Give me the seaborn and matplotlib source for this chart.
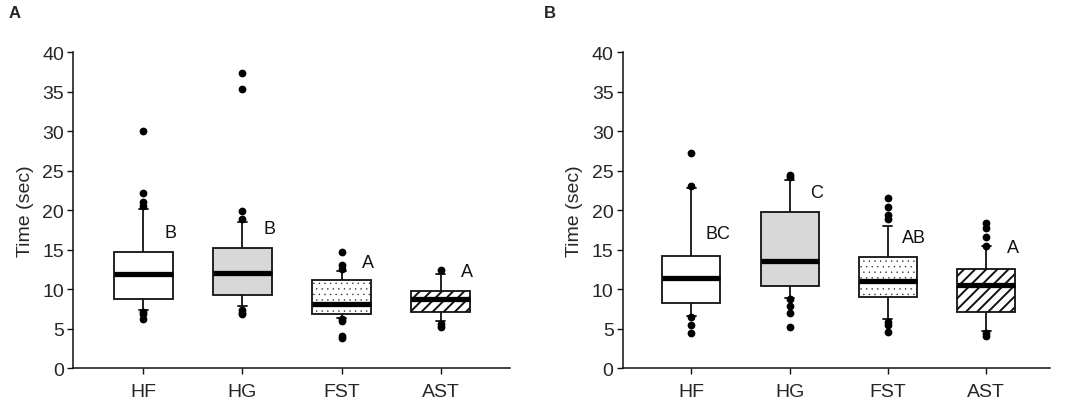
import matplotlib
matplotlib.use("Agg")
import matplotlib.pyplot as plt
import seaborn as sns
import pandas as pd

# ---------------- data ----------------
categories = ["HF", "HG", "FST", "AST"]

# five-number summaries: [lower whisker, Q1, median, Q3, upper whisker]
a_HF = [7.4, 8.8, 11.9, 14.7, 20.1]
a_HG = [7.9, 9.2, 12.0, 15.2, 18.5]
a_FST = [6.4, 6.8, 8.1, 11.2, 12.3]
a_AST = [5.9, 7.05, 8.7, 9.8, 11.9]

b_HF = [6.6, 8.2, 11.4, 14.2, 22.8]
b_HG = [8.9, 10.4, 13.5, 19.8, 23.8]
b_FST = [6.2, 9.0, 11.05, 14.1, 18.0]
b_AST = [4.7, 7.05, 10.55, 12.6, 15.4]

# points outside the whiskers
a_out_HF = [30.0, 22.2, 21.0, 20.5, 7.1, 6.8, 6.2]
a_out_HG = [37.4, 35.4, 19.9, 18.9, 7.3, 7.0, 6.8]
a_out_FST = [14.7, 13.0, 12.6, 6.2, 5.9, 4.1, 3.8]
a_out_AST = [12.4, 5.6, 5.2]

b_out_HF = [27.2, 23.1, 6.5, 5.4, 4.4]
b_out_HG = [24.4, 24.2, 8.8, 7.9, 7.0, 5.2]
b_out_FST = [21.5, 20.4, 19.4, 18.9, 5.8, 5.4, 4.6]
b_out_AST = [18.4, 17.8, 16.6, 15.5, 4.4, 4.1]

a_letters = ["B", "B", "A", "A"]
b_letters = ["BC", "C", "AB", "A"]
a_letter_y = [17.2, 17.7, 13.4, 12.2]
b_letter_y = [17.0, 22.2, 16.5, 15.3]

yticks = [0, 5, 10, 15, 20, 25, 30, 35, 40]
ylabel = "Time (sec)"

# ---------------- style ----------------
sns.set_theme(style="ticks")
plt.rcParams["font.family"] = ["Liberation Sans", "DejaVu Sans"]
plt.rcParams["hatch.linewidth"] = 1.4
plt.rcParams["hatch.color"] = "black"

fills = {"HF": "white", "HG": "#d8d8d8", "FST": "white", "AST": "white"}
hatches = [None, None, "...", "///"]
hatch_lw = [None, None, 0.2, 1.4]
ink = "#111111"


def make_frame(summaries):
    rows = []
    for cat, vals in zip(categories, summaries):
        for v in vals:
            rows.append({"group": cat, "time": v})
    return pd.DataFrame(rows)


def draw(ax, summaries, outliers, letters, letter_y, xlim):
    df = make_frame(summaries)
    sns.boxplot(data=df, x="group", y="time", hue="group", order=categories,
                hue_order=categories, palette=fills, saturation=1,
                whis=(0, 100), width=0.59, linecolor=ink, linewidth=1.3,
                legend=False, ax=ax, dodge=False,
                medianprops={"linewidth": 3.8, "color": "black"},
                capwidths=0.09)
    for patch, h, hl in zip(ax.patches, hatches, hatch_lw):
        if h:
            patch.set_hatch(h)
            if hasattr(patch, "set_hatch_linewidth"):
                patch.set_hatch_linewidth(hl)
    odf = pd.DataFrame([{"group": c, "time": v}
                        for c, vals in zip(categories, outliers) for v in vals])
    sns.stripplot(data=odf, x="group", y="time", order=categories,
                  jitter=False, color="black", size=5.6, linewidth=0, ax=ax,
                  zorder=5)
    for i, (lab, yy) in enumerate(zip(letters, letter_y)):
        ax.text(i + 0.27, yy, lab, fontsize=13, ha="center", va="center",
                color=ink)
    ax.set_ylim(0, 40)
    ax.set_xlim(*xlim)
    ax.set_yticks(yticks)
    ax.set_xlabel("")
    ax.set_ylabel(ylabel, fontsize=14, labelpad=6)
    ax.tick_params(axis="both", labelsize=14, length=4.5, width=1.0,
                   color=ink, pad=2)
    ax.tick_params(axis="x", pad=6)
    for s in ["left", "bottom"]:
        ax.spines[s].set_color(ink)
        ax.spines[s].set_linewidth(1.1)
    sns.despine(ax=ax)


fig = plt.figure(figsize=(10.84, 4.06), dpi=100)
axA = fig.add_axes([0.0673, 0.0911, 0.4032, 0.7776])
axB = fig.add_axes([0.5744, 0.0911, 0.3942, 0.7776])

draw(axA, [a_HF, a_HG, a_FST, a_AST],
     [a_out_HF, a_out_HG, a_out_FST, a_out_AST], a_letters, a_letter_y,
     (-0.71, 3.70))
draw(axB, [b_HF, b_HG, b_FST, b_AST],
     [b_out_HF, b_out_HG, b_out_FST, b_out_AST], b_letters, b_letter_y,
     (-0.70, 3.65))

fig.text(0.008, 0.967, "A", fontsize=12, fontweight="bold", ha="left",
         va="center")
fig.text(0.502, 0.967, "B", fontsize=12, fontweight="bold", ha="left",
         va="center")

fig.savefig("out.png", dpi=100)
